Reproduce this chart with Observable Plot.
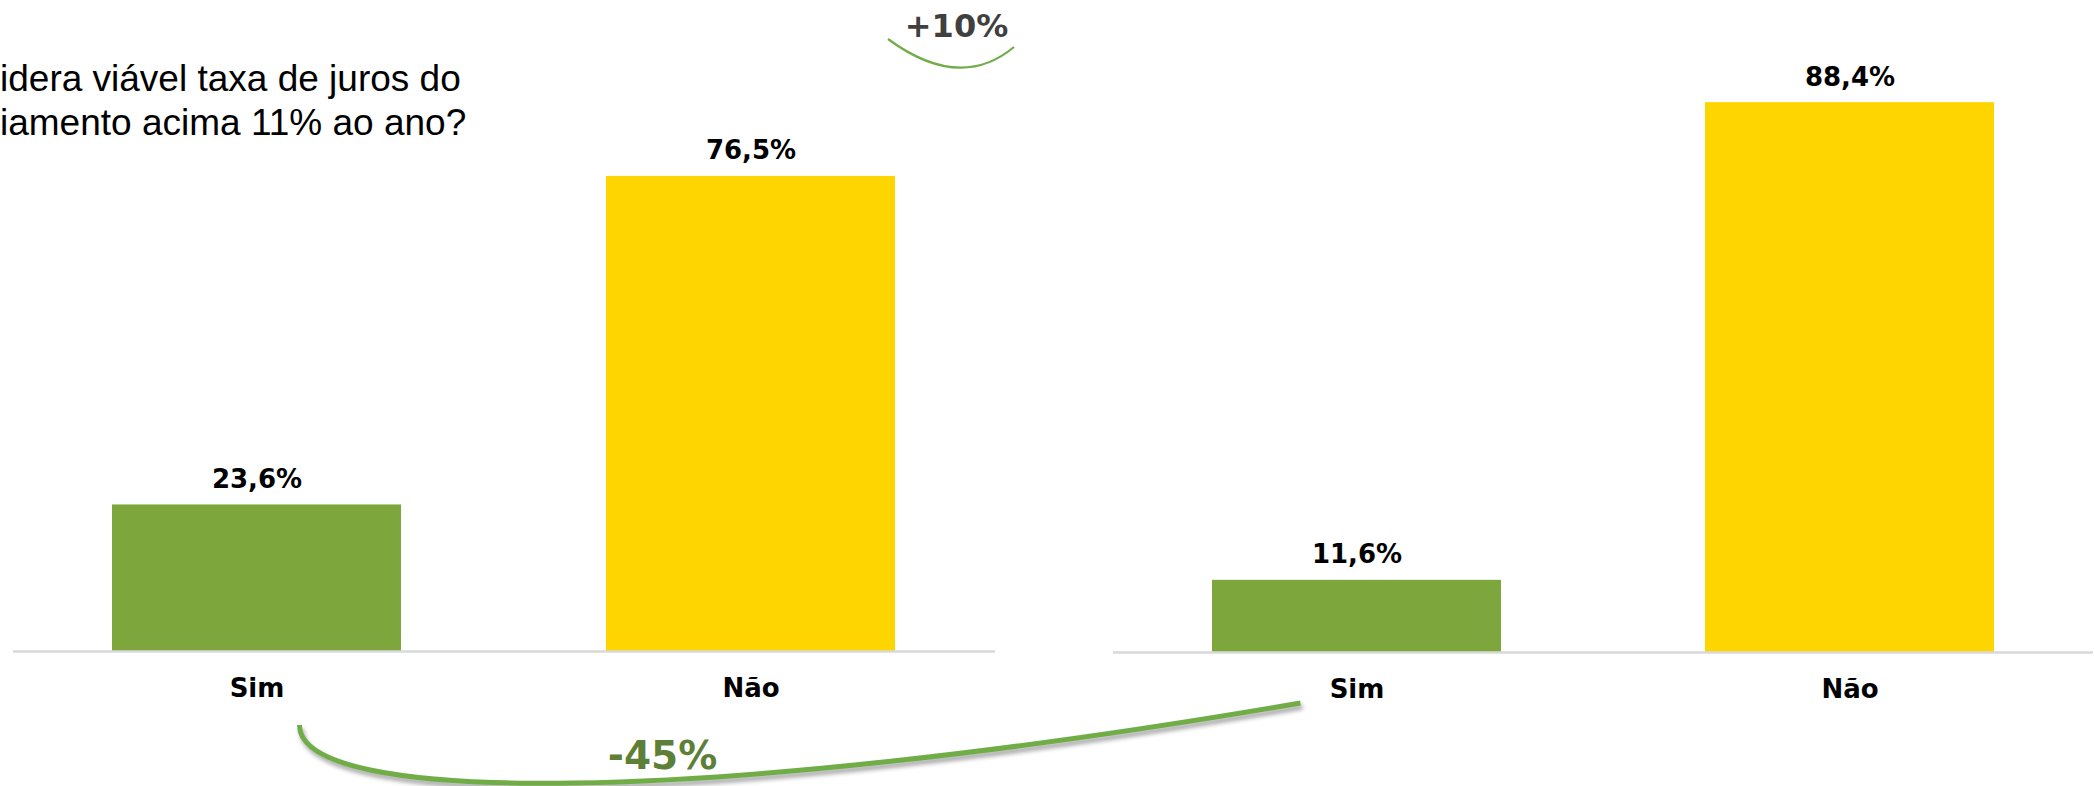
<!DOCTYPE html>
<html><head><meta charset="utf-8">
<script src="https://cdn.jsdelivr.net/npm/d3@7"></script>
<script src="https://cdn.jsdelivr.net/npm/@observablehq/plot@0.6"></script>
<style>
body{margin:0;background:#fff;}
#wrap{position:relative;width:2095px;height:786px;overflow:hidden;background:#fff;}
#title{position:absolute;left:0px;top:57px;font-family:"Liberation Sans",Arial,sans-serif;font-size:37px;line-height:44px;color:#000;white-space:nowrap;}
.layer{position:absolute;top:0;}
</style></head><body>
<div id="wrap"><div id="title">idera viável taxa de juros do<br>iamento acima 11% ao ano?</div></div>
<script>
// ---- data ----
const categories = ["Sim", "Não"];
const leftValues = [23.6, 76.5];
const rightValues = [11.6, 88.4];
const changeLabels = ["+10%", "-45%"];
const barColors = ["#7DA63C", "#FFD500"];

const fmt = v => v.toFixed(1).replace(".", ",") + "%";
const W = 2095, H = 786;
const wrap = document.getElementById("wrap");

function panel(values, left, width, marginRight, marginBottom) {
  const data = categories.map((c, i) => ({category: c, value: values[i]}));
  const p = Plot.plot({
    width, height: H,
    marginTop: 30, marginBottom, marginLeft: 13, marginRight,
    x: {domain: categories, paddingInner: 0.414, paddingOuter: 0.2, axis: null},
    y: {domain: [0, 100], axis: null},
    color: {domain: categories, range: barColors},
    style: {fontFamily: "'DejaVu Sans', Verdana, sans-serif", fontSize: "26px", fontWeight: "bold", background: "transparent", overflow: "visible", color: "#000"},
    marks: [
      Plot.barY(data, {x: "category", y: "value", fill: "category"}),
      Plot.ruleY([0], {stroke: "#D9D9D9", strokeWidth: 2.5}),
      Plot.text(data, {x: "category", y: "value", text: d => fmt(d.value), lineAnchor: "bottom", dy: -17, fill: "#000"}),
      Plot.axisX({tickSize: 0, tickPadding: 27, fill: "#000", label: null})
    ]
  });
  p.classList.add("layer");
  p.style.left = left + "px";
  wrap.appendChild(p);
  return p;
}

const leftPlot = panel(leftValues, 0, 1000, 5, 135);
const rightPlot = panel(rightValues, 1100, 995, 2, 134);

// anchor positions derived from the panel scales
const Lx = leftPlot.scale("x"), Rx = rightPlot.scale("x");
const sim1 = Lx.apply("Sim") + Lx.bandwidth / 2;          // ~257
const sim2 = 1100 + Rx.apply("Sim") + Rx.bandwidth / 2;   // ~1357

// annotation layout (pixel space of the overlay)
const smallArc = {p0: [888, 39], c: [960, 92], p1: [1014, 47]};
const bigArc = {p0: [sim1 + 43, 725], c1: [sim1 + 43, 806], c2: [700, 806], p1: [sim2 - 56, 703]};

const overlay = Plot.plot({
  width: W, height: H, margin: 0,
  x: {type: "linear", domain: [0, W], range: [0, W], axis: null},
  y: {type: "linear", domain: [0, H], range: [0, H], axis: null},
  style: {fontFamily: "'DejaVu Sans', Verdana, sans-serif", fontWeight: "bold", background: "transparent"},
  marks: [
    (index, {x, y}) => {
      const g = document.createElementNS("http://www.w3.org/2000/svg", "g");
      const p1 = d3.path();
      p1.moveTo(x(smallArc.p0[0]), y(smallArc.p0[1]));
      p1.quadraticCurveTo(x(smallArc.c[0]), y(smallArc.c[1]), x(smallArc.p1[0]), y(smallArc.p1[1]));
      const a = document.createElementNS("http://www.w3.org/2000/svg", "path");
      a.setAttribute("d", p1.toString());
      a.setAttribute("fill", "none");
      a.setAttribute("stroke", "#70AD47");
      a.setAttribute("stroke-width", "2.2");
      g.appendChild(a);
      const p2 = d3.path();
      p2.moveTo(x(bigArc.p0[0]), y(bigArc.p0[1]));
      p2.bezierCurveTo(x(bigArc.c1[0]), y(bigArc.c1[1]), x(bigArc.c2[0]), y(bigArc.c2[1]), x(bigArc.p1[0]), y(bigArc.p1[1]));
      const b = document.createElementNS("http://www.w3.org/2000/svg", "path");
      b.setAttribute("d", p2.toString());
      b.setAttribute("fill", "none");
      b.setAttribute("stroke", "#70AD47");
      b.setAttribute("stroke-width", "5");
      b.setAttribute("style", "filter: drop-shadow(2px 4px 2px rgba(0,0,0,0.35))");
      g.appendChild(b);
      return g;
    },
    Plot.text([changeLabels[0]], {x: () => 956, y: () => 36, text: d => d, lineAnchor: "bottom", fontSize: 32, fill: "#404040"}),
    Plot.text([changeLabels[1]], {x: () => 662, y: () => 768, text: d => d, lineAnchor: "bottom", fontSize: 39, fill: "#5E7F38"})
  ]
});
overlay.classList.add("layer");
overlay.style.left = "0px";
wrap.appendChild(overlay);
</script>
</body></html>
